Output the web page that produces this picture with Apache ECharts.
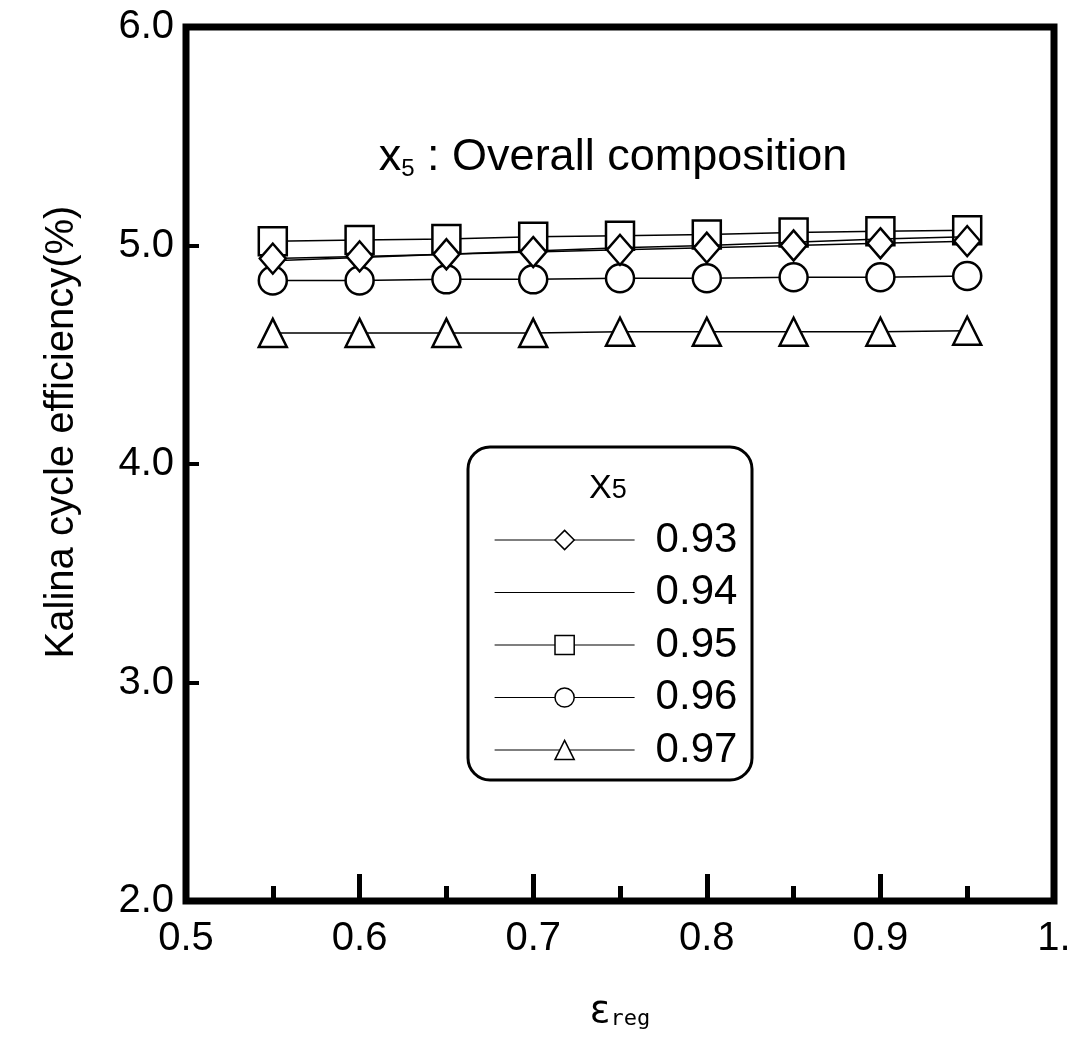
<!DOCTYPE html>
<html>
<head>
<meta charset="utf-8">
<script src="https://cdn.jsdelivr.net/npm/echarts@6/dist/echarts.min.js"></script>
<style>
  html, body { margin: 0; padding: 0; background: #fff; }
  #chart { width: 1074px; height: 1037px; }
</style>
</head>
<body>
<div id="chart"></div>
<script>
// 数据
var xValues = [0.55, 0.60, 0.65, 0.70, 0.75, 0.80, 0.85, 0.90, 0.95];
var names = ['0.93', '0.94', '0.95', '0.96', '0.97'];
var eff093 = [4.94, 4.95, 4.96, 4.97, 4.98, 4.99, 5.00, 5.01, 5.02];
var eff094 = [4.93, 4.945, 4.96, 4.975, 4.99, 5.00, 5.015, 5.03, 5.04];
var eff095 = [5.02, 5.025, 5.03, 5.04, 5.045, 5.05, 5.06, 5.065, 5.07];
var eff096 = [4.84, 4.84, 4.845, 4.845, 4.85, 4.85, 4.855, 4.855, 4.86];
var eff097 = [4.60, 4.60, 4.60, 4.60, 4.605, 4.605, 4.605, 4.605, 4.61];
var yTicks = ['2.0', '3.0', '4.0', '5.0', '6.0'];
var xTicks = ['0.5', '0.6', '0.7', '0.8', '0.9', '1.'];

var allSeries = [eff093, eff094, eff095, eff096, eff097];
var symbols = ['diamond', 'circle', 'rect', 'circle', 'triangle'];
var sizes = [[26, 30], 2, 28, 28, 28];

function pairs(ys) {
    return xValues.map(function (x, i) { return [x, ys[i]]; });
}

var myChart = echarts.init(document.getElementById('chart'));

var series = names.map(function (n, k) {
    return {
        name: n,
        type: 'line',
        data: pairs(allSeries[k]),
        symbol: symbols[k],
        symbolSize: sizes[k],
        showAllSymbol: true,
        lineStyle: { color: '#000', width: 1.5 },
        itemStyle: { color: '#fff', borderColor: '#000', borderWidth: k === 1 ? 1 : 2.5 },
        z: 5 - k
    };
});

// 图例：0.94 只显示线
var legendData = names.map(function (n) {
    return n === '0.94' ? { name: n, itemStyle: { opacity: 0 } } : { name: n };
});

var fnt = 'Liberation Sans';

var option = {
    backgroundColor: '#fff',
    animation: false,
    grid: {
        left: 186, right: 20, top: 27, bottom: 136,
        show: true, borderColor: '#000', borderWidth: 7, backgroundColor: 'transparent'
    },
    title: {
        text: '{a|x}{s|5}{a| : Overall composition}',
        left: 608, top: 129, textAlign: 'center',
        textStyle: {
            fontWeight: 'normal',
            rich: {
                a: { fontFamily: fnt, fontSize: 45, fontWeight: 'normal', color: '#000', lineHeight: 48 },
                s: { fontFamily: fnt, fontSize: 24, fontWeight: 'normal', color: '#000', lineHeight: 48, padding: [22, 0, 0, 0] }
            }
        }
    },
    legend: {
        orient: 'vertical',
        left: 489, top: 513,
        z: 20,
        itemWidth: 140, itemHeight: 24, itemGap: 8.5,
        data: legendData,
        textStyle: { fontFamily: fnt, fontSize: 42, lineHeight: 44, color: '#000', padding: [0, 0, 0, 16] },
        itemStyle: { color: '#fff', borderColor: '#000', borderWidth: 1.5 },
        lineStyle: { color: '#000', width: 1.2 }
    },
    xAxis: {
        type: 'value',
        min: 0.5, max: 1.0, interval: 0.1,
        name: '{e|ε}{r|reg}',
        nameLocation: 'middle', nameGap: 92,
        nameTextStyle: {
            rich: {
                e: { fontFamily: 'DejaVu Sans', fontSize: 38, color: '#000' },
                r: { fontFamily: 'DejaVu Sans Mono', fontSize: 22, color: '#000', padding: [14, 0, 0, 0] }
            }
        },
        axisLine: { show: false },
        axisTick: { show: true, inside: true, length: 27, lineStyle: { color: '#000', width: 5 } },
        minorTick: { show: true, splitNumber: 2, length: 15, lineStyle: { color: '#000', width: 5 } },
        splitLine: { show: false },
        axisLabel: {
            fontFamily: fnt, fontSize: 40, color: '#000', margin: 18,
            formatter: function (v) { return xTicks[Math.round((v - 0.5) * 10)]; }
        }
    },
    yAxis: {
        type: 'value',
        min: 2, max: 6, interval: 1,
        axisLine: { show: false },
        axisTick: { show: true, inside: true, length: 13, lineStyle: { color: '#000', width: 4 } },
        splitLine: { show: false },
        axisLabel: {
            fontFamily: fnt, fontSize: 40, color: '#000', margin: 12,
            formatter: function (v) { return yTicks[Math.round(v - 2)]; }
        }
    },
    graphic: [
        {
            type: 'rect',
            shape: { x: 468, y: 447, width: 284, height: 333, r: 22 },
            style: { fill: '#fff', stroke: '#000', lineWidth: 3 },
            z: 10
        },
        {
            type: 'text',
            x: 589, y: 472,
            style: { text: '{a|X}{s|5}', rich: {
                a: { fontFamily: fnt, fontSize: 34, fill: '#000' },
                s: { fontFamily: fnt, fontSize: 27, fill: '#000', padding: [4, 0, 0, 0] }
            } },
            z: 11
        },
        {
            type: 'text',
            x: 62, y: 432,
            rotation: Math.PI / 2,
            style: {
                text: 'Kalina cycle efficiency(%)',
                fontFamily: fnt, fontSize: 40, fill: '#000',
                align: 'center', verticalAlign: 'middle'
            }
        }
    ],
    series: series
};

myChart.setOption(option);
</script>
</body>
</html>
